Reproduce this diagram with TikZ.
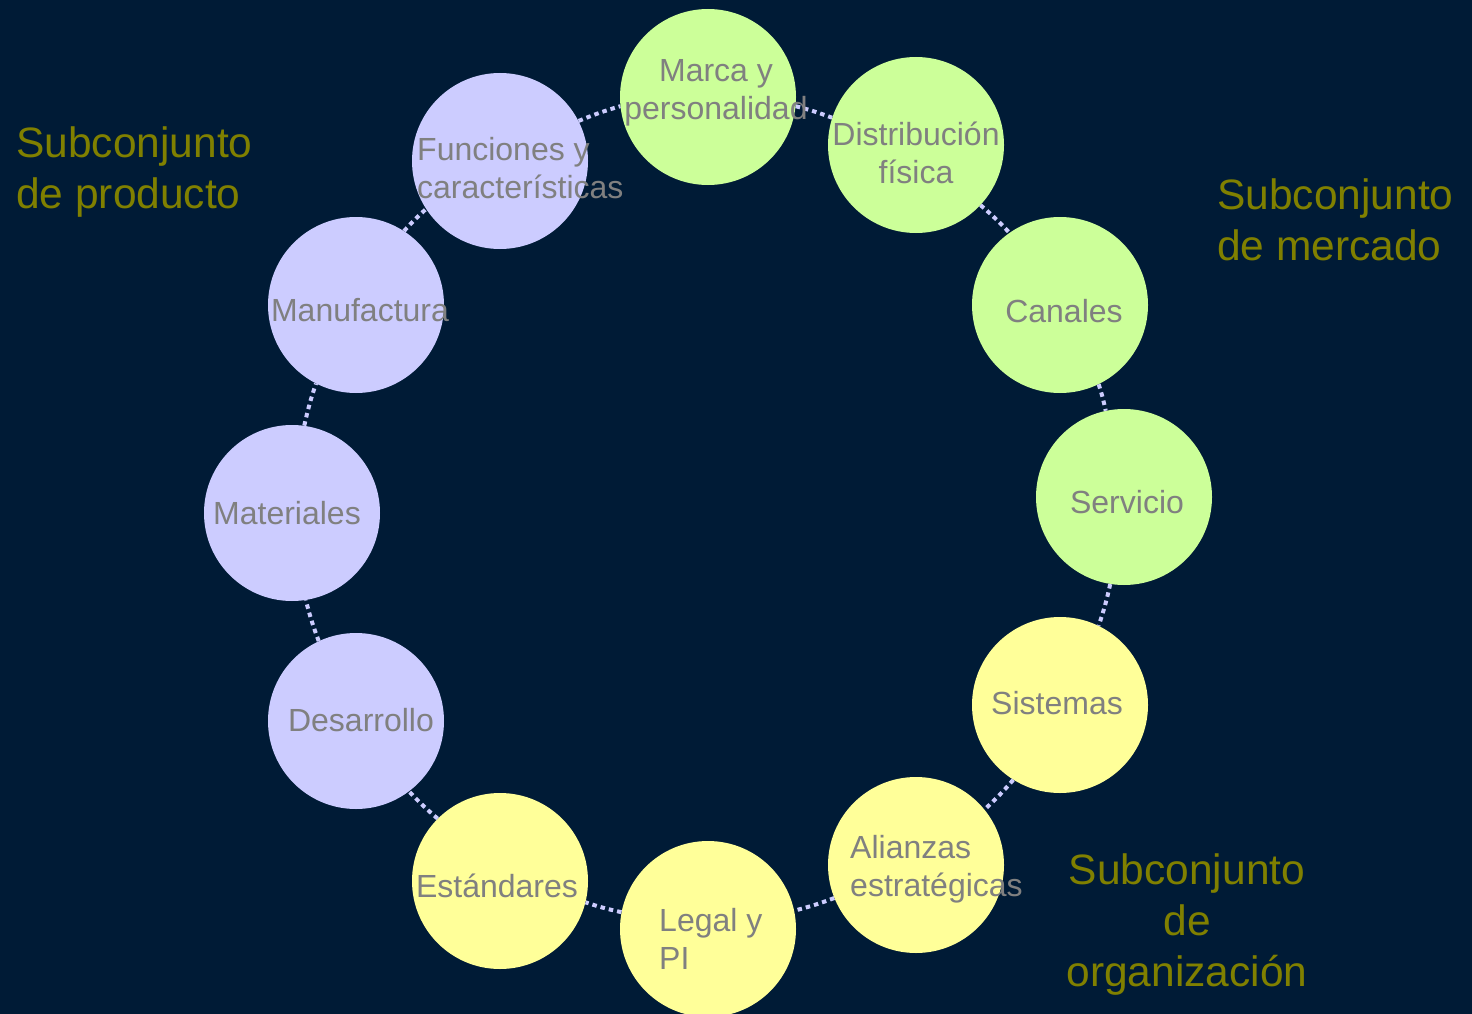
\documentclass[tikz,border=0pt]{standalone}
\usepackage{fontspec}
\setmainfont{Liberation Sans}
\definecolor{bgnavy}{HTML}{001B36}
\definecolor{cgreen}{HTML}{CCFF99}
\definecolor{clav}{HTML}{CCCCFF}
\definecolor{cyel}{HTML}{FFFF99}
\definecolor{cgray}{HTML}{808080}
\definecolor{colive}{HTML}{808000}
\begin{document}
\begin{tikzpicture}[x=1pt,y=-1pt,
  circ/.style={circle, minimum size=176pt, inner sep=0pt, draw=none},
  grn/.style={circ, fill=cgreen},
  lav/.style={circ, fill=clav},
  yel/.style={circ, fill=cyel},
  conn/.style={draw=clav, line width=4pt, dash pattern=on 4.5pt off 4pt},
  lbl/.style={text=cgray, font=\fontsize{32}{38}\selectfont, inner sep=0pt},
  head/.style={text=colive, font=\fontsize{42.5}{51}\selectfont, inner sep=0pt}]
\fill[bgnavy] (0,0) rectangle (1472,1014);
\useasboundingbox (0,0) rectangle (1472,1014);
% circles
\node[grn] (marca) at (708,97) {};
\node[grn] (dist) at (916,145) {};
\node[grn] (canales) at (1060,305) {};
\node[grn] (servicio) at (1124,497) {};
\node[yel] (sistemas) at (1060,705) {};
\node[yel] (alianzas) at (916,865) {};
\node[yel] (legal) at (708,929) {};
\node[yel] (estandares) at (500,881) {};
\node[lav] (desarrollo) at (356,721) {};
\node[lav] (materiales) at (292,513) {};
\node[lav] (manufactura) at (356,305) {};
\node[lav] (funciones) at (500,161) {};
% connectors (short arcs of the ring)
\draw[conn] (funciones.27.7) to[bend left=3] (marca.186.5);
\draw[conn] (marca.-6.5) to[bend left=3] (dist.162.6);
\draw[conn] (dist.-43.2) to[bend left=3] (canales.125.5);
\draw[conn] (canales.-64.6) to[bend left=3] (servicio.102.3);
\draw[conn] (servicio.-99) to[bend left=3] (sistemas.64.3);
\draw[conn] (sistemas.-122) to[bend left=3] (alianzas.39.2);
\draw[conn] (alianzas.-158.3) to[bend left=3] (legal.12.3);
\draw[conn] (legal.169) to[bend left=3] (estandares.-14);
\draw[conn] (estandares.135.5) to[bend left=3] (desarrollo.-53.1);
\draw[conn] (desarrollo.115) to[bend left=3] (materiales.-81.7);
\draw[conn] (materiales.82) to[bend left=3] (manufactura.243.2);
\draw[conn] (manufactura.57.9) to[bend left=3] (funciones.213.5);
% labels (multi-line nodes: base = baseline of last line)
\node[lbl, align=center, anchor=base] (tmarca) at (716,120) {Marca y\\personalidad};
\node[lbl, align=center, anchor=base] (tdist) at (916,183) {Distribución\\física};
\node[lbl, anchor=base] (tcanales) at (1064,322) {Canales};
\node[lbl, anchor=base] (tservicio) at (1127,513) {Servicio};
\node[lbl, anchor=base] (tsistemas) at (1057,714) {Sistemas};
\node[lbl, align=left, anchor=base west] (talianzas) at (850,896) {Alianzas\\estratégicas};
\node[lbl, align=left, anchor=base west] (tlegal) at (659,969) {Legal y\\PI};
\node[lbl, anchor=base] (testandares) at (497,897) {Estándares};
\node[lbl, anchor=base] (tdesarrollo) at (361,731) {Desarrollo};
\node[lbl, anchor=base] (tmateriales) at (287,524) {Materiales};
\node[lbl, anchor=base] (tmanufactura) at (360,321) {Manufactura};
\node[lbl, align=left, anchor=base west] (tfunciones) at (417,198) {Funciones y\\características};
% headings
\node[head, align=left, anchor=base west] (hprod) at (16,208) {Subconjunto\\de producto};
\node[head, align=left, anchor=base west] (hmerc) at (1217,260) {Subconjunto\\de mercado};
\node[head, align=center, anchor=base] (horg) at (1187,986) {Subconjunto\\de\\organización};
\end{tikzpicture}
\end{document}
